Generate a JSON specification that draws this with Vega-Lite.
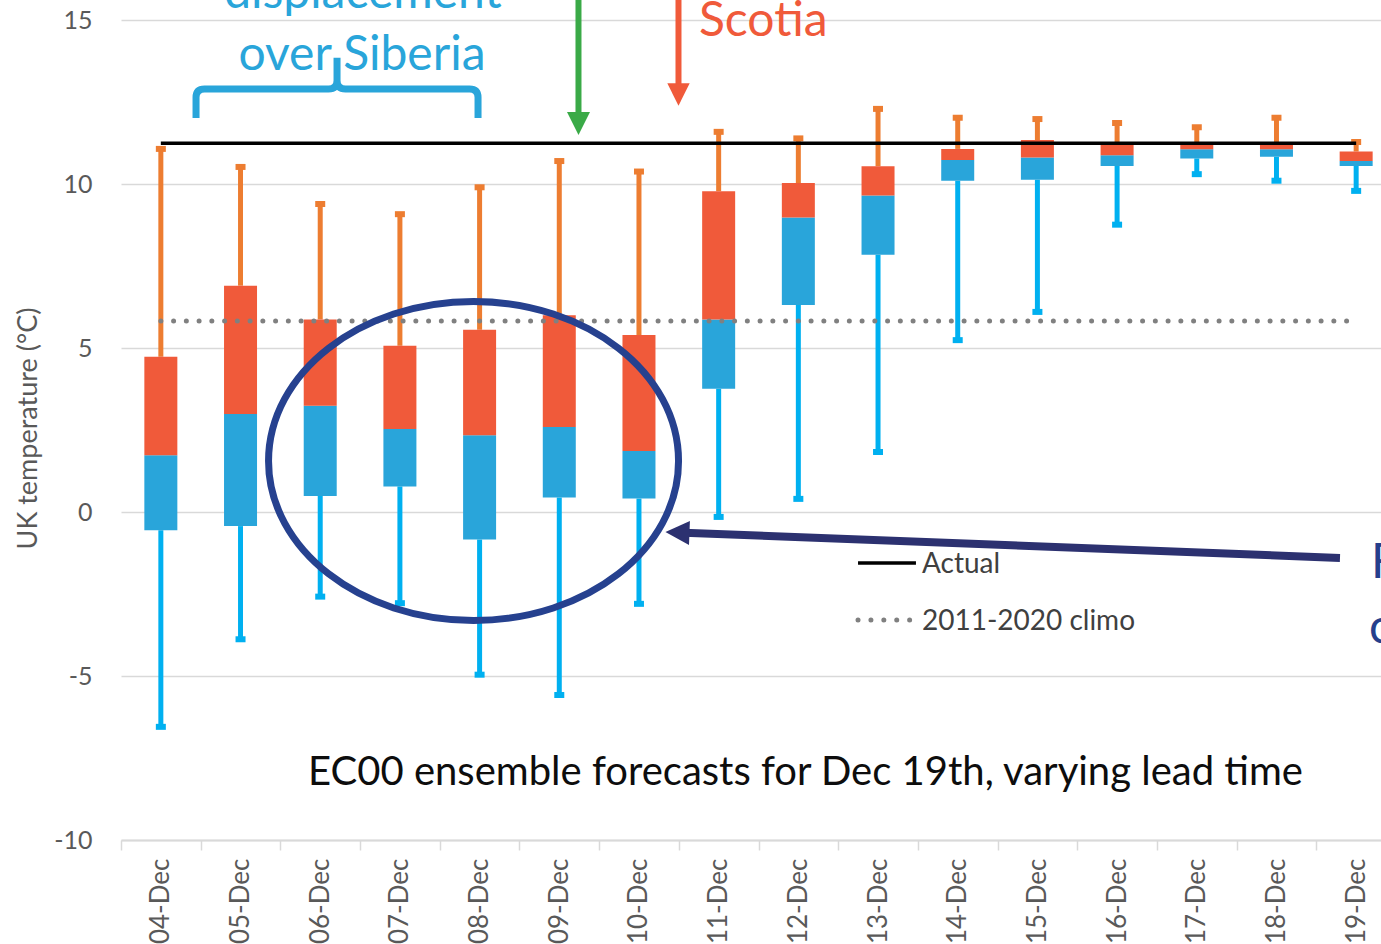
{
  "$schema": "https://vega.github.io/schema/vega-lite/v6.json",
  "width": 1260,
  "height": 820,
  "autosize": {"type": "none"},
  "padding": {"left": 121, "top": 20, "right": 0, "bottom": 104},
  "background": "white",
  "config": {"view": {"stroke": null}, "font": "Lato"},
  "datasets": {
    "forecasts": [
      {"date": "04-Dec", "min": -6.55, "q1": -0.56, "median": 1.73, "q3": 4.73, "max": 11.07},
      {"date": "05-Dec", "min": -3.88, "q1": -0.43, "median": 2.99, "q3": 6.90, "max": 10.52},
      {"date": "06-Dec", "min": -2.58, "q1": 0.49, "median": 3.24, "q3": 5.87, "max": 9.39},
      {"date": "07-Dec", "min": -2.78, "q1": 0.78, "median": 2.53, "q3": 5.07, "max": 9.08},
      {"date": "08-Dec", "min": -4.96, "q1": -0.84, "median": 2.34, "q3": 5.56, "max": 9.90},
      {"date": "09-Dec", "min": -5.58, "q1": 0.44, "median": 2.59, "q3": 6.00, "max": 10.70},
      {"date": "10-Dec", "min": -2.80, "q1": 0.41, "median": 1.86, "q3": 5.40, "max": 10.38},
      {"date": "11-Dec", "min": -0.15, "q1": 3.76, "median": 5.87, "q3": 9.78, "max": 11.59},
      {"date": "12-Dec", "min": 0.40, "q1": 6.31, "median": 8.98, "q3": 10.03, "max": 11.39},
      {"date": "13-Dec", "min": 1.83, "q1": 7.84, "median": 9.65, "q3": 10.54, "max": 12.29},
      {"date": "14-Dec", "min": 5.24, "q1": 10.10, "median": 10.73, "q3": 11.07, "max": 12.02},
      {"date": "15-Dec", "min": 6.10, "q1": 10.13, "median": 10.81, "q3": 11.34, "max": 11.98},
      {"date": "16-Dec", "min": 8.76, "q1": 10.55, "median": 10.88, "q3": 11.22, "max": 11.86},
      {"date": "17-Dec", "min": 10.30, "q1": 10.78, "median": 11.06, "q3": 11.22, "max": 11.73},
      {"date": "18-Dec", "min": 10.10, "q1": 10.83, "median": 11.06, "q3": 11.19, "max": 12.02},
      {"date": "19-Dec", "min": 9.79, "q1": 10.55, "median": 10.70, "q3": 10.99, "max": 11.28}
    ],
    "reference": [
      {"series": "Actual", "date": "04-Dec", "value": 11.24},
      {"series": "Actual", "date": "19-Dec", "value": 11.24},
      {"series": "2011-2020 climo", "date": "04-Dec", "value": 5.82},
      {"series": "2011-2020 climo", "date": "19-Dec", "value": 5.82}
    ]
  },
  "resolve": {"scale": {"x": "independent"}},
  "layer": [
    {
      "data": {"name": "forecasts"},
      "encoding": {
        "x": {
          "field": "date",
          "type": "ordinal",
          "scale": {
            "domain": ["04-Dec","05-Dec","06-Dec","07-Dec","08-Dec","09-Dec","10-Dec","11-Dec","12-Dec","13-Dec","14-Dec","15-Dec","16-Dec","17-Dec","18-Dec","19-Dec"],
            "range": [0, 1275],
            "paddingInner": 0,
            "paddingOuter": 0
          },
          "axis": {
            "title": null,
            "labelAngle": 270,
            "labelAlign": "right",
            "labelBaseline": "middle",
            "labelFontSize": 26,
            "labelColor": "#595959",
            "labelFont": "Lato",
            "labelPadding": 8,
            "tickBand": "extent",
            "ticks": true,
            "tickSize": 10,
            "tickColor": "#D9D9D9",
            "tickWidth": 1.5,
            "domainColor": "#D9D9D9",
            "domainWidth": 2,
            "grid": false
          }
        }
      },
      "layer": [
        {
          "mark": {"type": "rule", "color": "#00B0F0", "strokeWidth": 5},
          "encoding": {
            "y": {
              "field": "min",
              "type": "quantitative",
              "title": "UK temperature (°C)",
              "scale": {"domain": [-10, 15], "nice": false, "zero": false},
              "axis": {
                "values": [-10, -5, 0, 5, 10, 15],
                "labelExpr": "'' + datum.value",
                "title": "UK temperature (°C)",
                "titleFont": "Lato",
                "titleFontSize": 27,
                "titleFontWeight": "normal",
                "titleColor": "#595959",
                "titleX": -93,
                "titleY": 408,
                "titleAngle": 270,
                "titleAlign": "center",
                "titleBaseline": "middle",
                "labelFontSize": 25,
                "labelColor": "#595959",
                "labelFont": "Lato",
                "labelPadding": 29,
                "ticks": false,
                "domain": false,
                "grid": true,
                "gridColor": "#D9D9D9",
                "gridWidth": 1.5
              }
            },
            "y2": {"field": "q1"}
          }
        },
        {
          "mark": {"type": "rule", "color": "#ED7D31", "strokeWidth": 5},
          "encoding": {
            "y": {"field": "q3", "type": "quantitative"},
            "y2": {"field": "max"}
          }
        },
        {
          "mark": {"type": "bar", "color": "#29A5DA", "size": 33},
          "encoding": {
            "y": {"field": "q1", "type": "quantitative"},
            "y2": {"field": "median"}
          }
        },
        {
          "mark": {"type": "bar", "color": "#F05A3A", "size": 33},
          "encoding": {
            "y": {"field": "median", "type": "quantitative"},
            "y2": {"field": "q3"}
          }
        },
        {
          "mark": {"type": "tick", "color": "#00B0F0", "size": 10, "thickness": 6, "opacity": 1},
          "encoding": {"y": {"field": "min", "type": "quantitative"}}
        },
        {
          "mark": {"type": "tick", "color": "#ED7D31", "size": 10, "thickness": 6, "opacity": 1},
          "encoding": {"y": {"field": "max", "type": "quantitative"}}
        },
        {
          "data": {"name": "reference"},
          "transform": [{"filter": "datum.series === 'Actual'"}],
          "mark": {"type": "line", "color": "#000000", "strokeWidth": 3.5},
          "encoding": {"y": {"field": "value", "type": "quantitative"}}
        },
        {
          "data": {"name": "reference"},
          "transform": [{"filter": "datum.series === '2011-2020 climo'"}],
          "mark": {"type": "line", "color": "#808080", "strokeWidth": 5, "strokeDash": [0, 12.75], "strokeCap": "round"},
          "encoding": {"y": {"field": "value", "type": "quantitative"}}
        }
      ]
    },
    {
      "data": {"values": [{}]},
      "layer": [
        {
          "mark": {"type": "text", "text": "displacement", "fontSize": 48, "color": "#29A5DA", "align": "center", "baseline": "alphabetic"},
          "encoding": {
            "x": {"datum": 3.036, "type": "quantitative", "scale": {"domain": [0, 15.8118], "nice": false, "zero": false}, "axis": null},
            "y": {"datum": 15.37, "type": "quantitative"}
          }
        },
        {
          "mark": {"type": "text", "text": "over Siberia", "fontSize": 48, "color": "#29A5DA", "align": "center", "baseline": "alphabetic"},
          "encoding": {
            "x": {"datum": 3.024, "type": "quantitative", "axis": null},
            "y": {"datum": 13.48, "type": "quantitative"}
          }
        },
        {
          "mark": {"type": "point", "shape": "M -1 0.206 L -1 0.06 Q -1 0 -0.94 0 L -0.06 0 Q 0 0 0 -0.06 L 0 -0.22 M 0 -0.06 Q 0 0 0.06 0 L 0.94 0 Q 1 0 1 0.06 L 1 0.206", "size": 79524, "strokeWidth": 7, "color": "#29A5DA", "filled": false, "opacity": 1},
          "encoding": {
            "x": {"datum": 2.711, "type": "quantitative", "axis": null},
            "y": {"datum": 12.9, "type": "quantitative"}
          }
        },
        {
          "mark": {"type": "rule", "color": "#3AAA47", "strokeWidth": 6},
          "encoding": {
            "x": {"datum": 5.741, "type": "quantitative", "axis": null},
            "y": {"datum": 16.5, "type": "quantitative"},
            "y2": {"datum": 11.85}
          }
        },
        {
          "mark": {"type": "point", "shape": "M -1 -1 L 1 -1 L 0 1 Z", "size": 529, "filled": true, "color": "#3AAA47", "opacity": 1},
          "encoding": {
            "x": {"datum": 5.741, "type": "quantitative", "axis": null},
            "y": {"datum": 11.845, "type": "quantitative"}
          }
        },
        {
          "mark": {"type": "rule", "color": "#F05A3A", "strokeWidth": 6},
          "encoding": {
            "x": {"datum": 6.996, "type": "quantitative", "axis": null},
            "y": {"datum": 16.5, "type": "quantitative"},
            "y2": {"datum": 12.73}
          }
        },
        {
          "mark": {"type": "point", "shape": "M -1 -1 L 1 -1 L 0 1 Z", "size": 500, "filled": true, "color": "#F05A3A", "opacity": 1},
          "encoding": {
            "x": {"datum": 6.996, "type": "quantitative", "axis": null},
            "y": {"datum": 12.73, "type": "quantitative"}
          }
        },
        {
          "mark": {"type": "text", "text": "Scotia", "fontSize": 48, "color": "#F05A3A", "align": "left", "baseline": "alphabetic"},
          "encoding": {
            "x": {"datum": 7.253, "type": "quantitative", "axis": null},
            "y": {"datum": 14.51, "type": "quantitative"}
          }
        },
        {
          "mark": {"type": "point", "shape": "M -1 0 A 1 0.778 0 1 1 1 0 A 1 0.778 0 1 1 -1 0 Z", "size": 168100, "strokeWidth": 7, "color": "#26418F", "filled": false, "opacity": 1},
          "encoding": {
            "x": {"datum": 4.424, "type": "quantitative", "axis": null},
            "y": {"datum": 1.555, "type": "quantitative"}
          }
        },
        {
          "mark": {"type": "rule", "color": "#2C3170", "strokeWidth": 8},
          "encoding": {
            "x": {"datum": 15.297, "type": "quantitative", "axis": null},
            "x2": {"datum": 6.983},
            "y": {"datum": -1.402, "type": "quantitative"},
            "y2": {"datum": -0.625}
          }
        },
        {
          "mark": {"type": "point", "shape": "M -1 0 L 1 -1 L 1 1 Z", "size": 576, "angle": 2.2, "filled": true, "color": "#2C3170", "opacity": 1},
          "encoding": {
            "x": {"datum": 6.983, "type": "quantitative", "axis": null},
            "y": {"datum": -0.625, "type": "quantitative"}
          }
        },
        {
          "mark": {"type": "text", "text": "F", "fontSize": 48, "color": "#263F8C", "align": "left", "baseline": "alphabetic"},
          "encoding": {
            "x": {"datum": 15.686, "type": "quantitative", "axis": null},
            "y": {"datum": -2.01, "type": "quantitative"}
          }
        },
        {
          "mark": {"type": "text", "text": "c", "fontSize": 48, "color": "#263F8C", "align": "left", "baseline": "alphabetic"},
          "encoding": {
            "x": {"datum": 15.66, "type": "quantitative", "axis": null},
            "y": {"datum": -3.99, "type": "quantitative"}
          }
        },
        {
          "mark": {"type": "rule", "color": "#000000", "strokeWidth": 3.5},
          "encoding": {
            "x": {"datum": 9.249, "type": "quantitative", "axis": null},
            "x2": {"datum": 9.976},
            "y": {"datum": -1.555, "type": "quantitative"}
          }
        },
        {
          "mark": {"type": "text", "text": "Actual", "fontSize": 28, "color": "#404040", "align": "left", "baseline": "alphabetic"},
          "encoding": {
            "x": {"datum": 10.051, "type": "quantitative", "axis": null},
            "y": {"datum": -1.86, "type": "quantitative"}
          }
        },
        {
          "mark": {"type": "rule", "color": "#808080", "strokeWidth": 5, "strokeDash": [0, 12.9], "strokeCap": "round"},
          "encoding": {
            "x": {"datum": 9.249, "type": "quantitative", "axis": null},
            "x2": {"datum": 9.95},
            "y": {"datum": -3.293, "type": "quantitative"}
          }
        },
        {
          "mark": {"type": "text", "text": "2011-2020 climo", "fontSize": 28, "color": "#404040", "align": "left", "baseline": "alphabetic"},
          "encoding": {
            "x": {"datum": 10.051, "type": "quantitative", "axis": null},
            "y": {"datum": -3.598, "type": "quantitative"}
          }
        },
        {
          "mark": {"type": "text", "text": "EC00 ensemble forecasts for Dec 19th, varying lead time", "fontSize": 40, "color": "#0D0D0D", "align": "center", "baseline": "alphabetic"},
          "encoding": {
            "x": {"datum": 8.59, "type": "quantitative", "axis": null},
            "y": {"datum": -8.323, "type": "quantitative"}
          }
        }
      ]
    }
  ]
}
